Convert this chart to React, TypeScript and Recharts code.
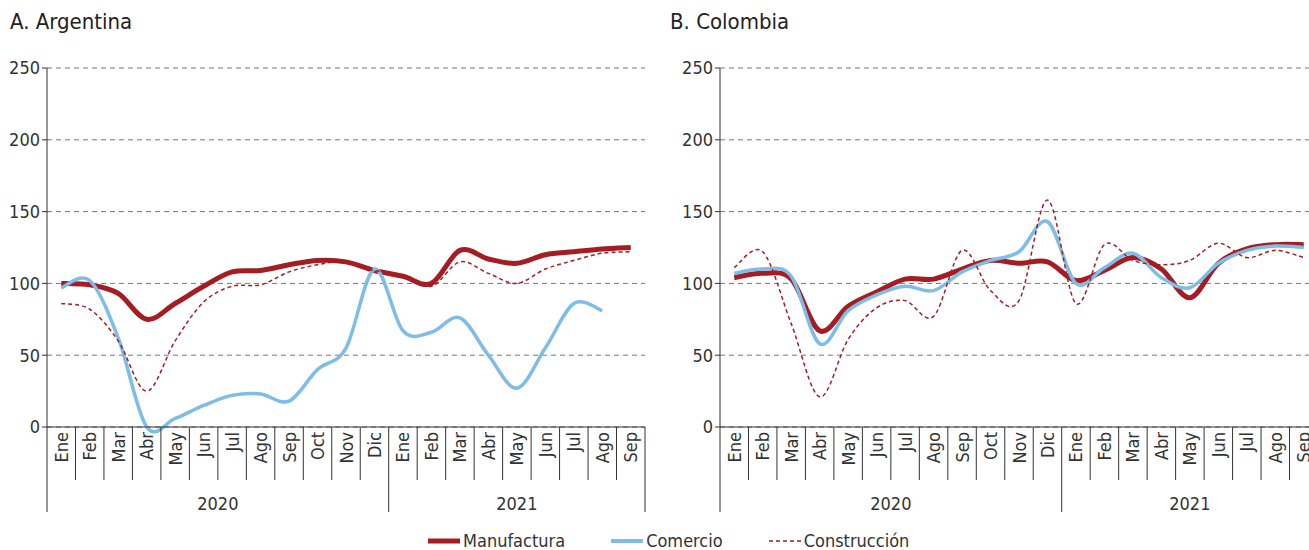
import React from 'react';
import { LineChart, Line, XAxis, YAxis, CartesianGrid } from 'recharts';

const months = ['Ene', 'Feb', 'Mar', 'Abr', 'May', 'Jun', 'Jul', 'Ago', 'Sep', 'Oct', 'Nov', 'Dic',
  'Ene', 'Feb', 'Mar', 'Abr', 'May', 'Jun', 'Jul', 'Ago', 'Sep'];

const argManufactura = [100, 99, 93, 75, 86, 98, 108, 109, 113, 116, 115, 109, 105, 100, 123, 117, 114, 120, 122, 124, 125];
const argComercio = [97, 102, 62, 0, 6, 15, 22, 23, 18, 40, 55, 110, 67, 66, 76, 50, 27, 55, 86, 81, null];
const argConstruccion = [86, 82, 60, 25, 60, 87, 98, 99, 108, 113, 115, 109, 106, 98, 115, 107, 100, 110, 116, 121, 122];

const colManufactura = [104, 107, 103, 67, 84, 94, 103, 103, 110, 116, 114, 115, 102, 109, 118, 110, 90, 114, 124, 127, 127];
const colComercio = [107, 110, 105, 58, 81, 92, 98, 95, 108, 116, 122, 143, 100, 111, 121, 104, 97, 114, 123, 126, 125];
const colConstruccion = [111, 122, 72, 21, 61, 83, 88, 77, 123, 95, 88, 158, 86, 127, 116, 113, 116, 128, 118, 123, 118];

const yTicks = [0, 50, 100, 150, 200, 250];

const RED = '#A51D23';
const BLUE = '#7DBDE8';
const TEXT = '#333';
const FONT = "'Liberation Sans Narrow', 'DejaVu Sans Condensed', Roboto, sans-serif";

const AXIS_Y = 427;
const BW = 598 / 21;

// smooth line like the spreadsheet one (catmull-rom)
const smoothCurve = (context: any) => {
  let pts: number[][] = [];
  return {
    areaStart() {},
    areaEnd() {},
    lineStart() { pts = []; },
    point(x: number, y: number) { pts.push([+x, +y]); },
    lineEnd() {
      const n = pts.length;
      if (!n) return;
      context.moveTo(pts[0][0], pts[0][1]);
      for (let i = 0; i < n - 1; i++) {
        const p0 = pts[i - 1] || pts[i];
        const p1 = pts[i];
        const p2 = pts[i + 1];
        const p3 = pts[i + 2] || pts[i + 1];
        context.bezierCurveTo(
          p1[0] + (p2[0] - p0[0]) / 6, p1[1] + (p2[1] - p0[1]) / 6,
          p2[0] - (p3[0] - p1[0]) / 6, p2[1] - (p3[1] - p1[1]) / 6,
          p2[0], p2[1],
        );
      }
    },
  };
};

const MonthTick = ({ x, payload, index }: any) => {
  const left = x - BW / 2;
  const long = index === 0 || index === 12;
  const ty = AXIS_Y + 5;
  return (
    <g>
      <line x1={left} x2={left} y1={AXIS_Y} y2={long ? 512 : 480} stroke={TEXT} strokeWidth={1} />
      {index === 20 && <line x1={x + BW / 2} x2={x + BW / 2} y1={AXIS_Y} y2={512} stroke={TEXT} />}
      <text x={x} y={ty} transform={`rotate(-90 ${x} ${ty})`} textAnchor="end" dominantBaseline="central"
        fontSize={18} fill={TEXT} fontFamily={FONT}>{payload.value}</text>
      {index === 6 && <text x={left} y={503} textAnchor="middle" dominantBaseline="central"
        fontSize={18} fill={TEXT} fontFamily={FONT}>2020</text>}
      {index === 16 && <text x={x} y={503} textAnchor="middle" dominantBaseline="central"
        fontSize={18} fill={TEXT} fontFamily={FONT}>2021</text>}
    </g>
  );
};

function Panel({ title, left, yWidth, manu, come, cons }: any) {
  const data = months.map((m, i) => ({ m, manu: manu[i], come: come[i], cons: cons[i] }));
  return (
    <div style={{ position: 'absolute', left, top: 0 }}>
      <div style={{ position: 'absolute', left: 10, top: 9, fontSize: 22, color: '#222', fontFamily: FONT, whiteSpace: 'nowrap' }}>{title}</div>
      <LineChart width={yWidth + 598 + 2} height={550} data={data} margin={{ top: 68, right: 2, left: 0, bottom: 0 }}>
        <CartesianGrid vertical={false} stroke="#777" strokeDasharray="5 4" />
        <XAxis dataKey="m" interval={0} height={123} tickLine={false} tickSize={0}
          padding={{ left: BW / 2, right: BW / 2 }}
          axisLine={{ stroke: TEXT }} tick={<MonthTick />} />
        <YAxis width={yWidth} domain={[0, 250]} ticks={yTicks} tickSize={5}
          axisLine={{ stroke: TEXT }} tickLine={{ stroke: TEXT }}
          tick={{ fontSize: 18, fill: TEXT, fontFamily: FONT }} />
        <Line dataKey="manu" type={smoothCurve as any} stroke={RED} strokeWidth={5} dot={false} isAnimationActive={false} />
        <Line dataKey="come" type={smoothCurve as any} stroke={BLUE} strokeWidth={3.5} dot={false} isAnimationActive={false} />
        <Line dataKey="cons" type={smoothCurve as any} stroke={RED} strokeWidth={1.5} strokeDasharray="4 3" dot={false} isAnimationActive={false} />
      </LineChart>
    </div>
  );
}

const legendItem = (label: string, color: string, width: number, dash?: string) => (
  <div style={{ display: 'flex', alignItems: 'center', marginRight: 46 }}>
    <svg width={32} height={8} style={{ marginRight: 3 }}>
      <line x1={0} x2={32} y1={4} y2={4} stroke={color} strokeWidth={width} strokeDasharray={dash} />
    </svg>
    <span>{label}</span>
  </div>
);

export default function App() {
  return (
    <div style={{ position: 'absolute', left: 0, top: 0, width: 1309, height: 550, overflow: 'hidden', background: '#fff' }}>
      <Panel title="A. Argentina" left={0} yWidth={47} manu={argManufactura} come={argComercio} cons={argConstruccion} />
      <Panel title="B. Colombia" left={660} yWidth={60} manu={colManufactura} come={colComercio} cons={colConstruccion} />
      <div style={{ position: 'absolute', left: 428, top: 532, lineHeight: '18px', display: 'flex', fontSize: 18, color: TEXT, fontFamily: FONT }}>
        {legendItem('Manufactura', RED, 5)}
        {legendItem('Comercio', BLUE, 4)}
        {legendItem('Construcción', RED, 1.5, '4 3')}
      </div>
    </div>
  );
}
